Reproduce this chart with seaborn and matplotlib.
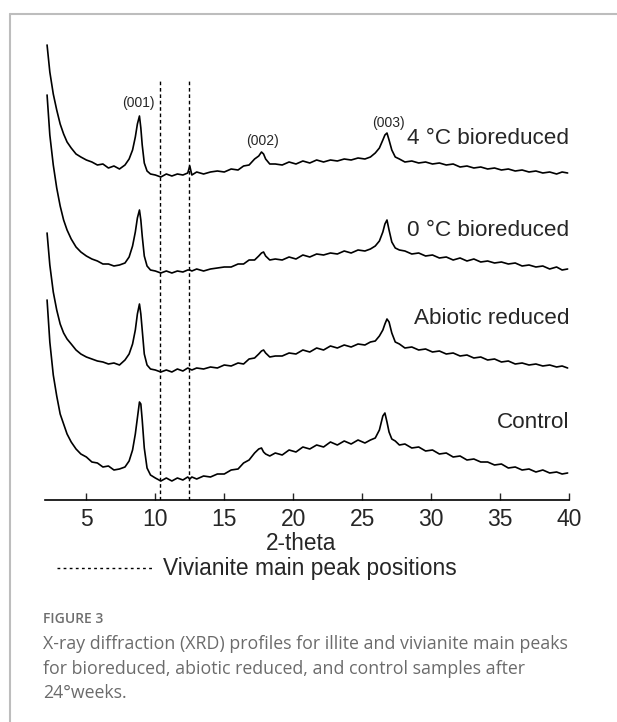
import matplotlib
matplotlib.use('Agg')
import matplotlib.pyplot as plt
from matplotlib.lines import Line2D
import numpy as np
import pandas as pd
import seaborn as sns

# 2-theta positions (shared by all four scans)
two_theta = [2.15, 2.35, 2.6, 2.85, 3.1, 3.35, 3.6, 3.9, 4.25, 4.6,
             5.0, 5.4, 5.8, 6.2, 6.6, 7.0, 7.4, 7.8, 8.1, 8.35,
             8.55, 8.7, 8.85, 8.95, 9.05, 9.2, 9.4, 9.65, 10.0, 10.4,
             10.8, 11.2, 11.6, 12.0, 12.35, 12.5, 12.65, 13.0, 13.5, 14.0,
             14.5, 15.0, 15.5, 16.0, 16.4, 16.8, 17.2, 17.5, 17.7, 17.85,
             18.0, 18.3, 18.7, 19.2, 19.7, 20.2, 20.7, 21.2, 21.7, 22.2,
             22.7, 23.2, 23.7, 24.2, 24.7, 25.2, 25.6, 25.95, 26.25, 26.5,
             26.65, 26.8, 26.95, 27.15, 27.4, 27.7, 28.1, 28.6, 29.1, 29.6,
             30.1, 30.6, 31.1, 31.6, 32.1, 32.6, 33.1, 33.6, 34.1, 34.6,
             35.1, 35.6, 36.1, 36.6, 37.1, 37.6, 38.1, 38.6, 39.1, 39.5, 39.9]

# intensities (stacked, arbitrary units)
bio_4c = [455, 428, 406, 390, 376, 366, 358, 352, 346, 343,
          340, 338, 335, 336, 332, 334, 331, 335, 341, 350,
          363, 376, 384, 372, 355, 337, 329, 326, 325, 323,
          326, 324, 326, 325, 327, 334, 325, 328, 326, 328,
          329, 328, 331, 330, 334, 335, 341, 344, 348, 346,
          341, 336, 336, 335, 338, 336, 339, 337, 340, 338,
          340, 339, 341, 340, 342, 341, 343, 347, 352, 360,
          365, 367, 360, 350, 343, 341, 338, 339, 337, 338,
          336, 337, 335, 336, 333, 334, 332, 333, 331, 332,
          330, 331, 329, 330, 328, 329, 327, 328, 326, 328, 327]

bio_0c = [405, 365, 335, 312, 294, 280, 270, 261, 253, 248,
          244, 241, 239, 236, 236, 234, 235, 237, 243, 254,
          268, 282, 290, 280, 264, 244, 234, 230, 229, 227,
          229, 227, 229, 228, 230, 230, 229, 231, 229, 231,
          232, 233, 233, 236, 236, 240, 240, 244, 247, 248,
          244, 240, 241, 240, 243, 241, 245, 243, 246, 245,
          247, 246, 249, 247, 250, 249, 251, 254, 259, 268,
          276, 280, 270, 258, 252, 250, 249, 246, 247, 244,
          245, 242, 243, 240, 242, 239, 241, 238, 239, 237,
          238, 236, 237, 234, 235, 233, 234, 231, 233, 230, 231]

abiotic = [267, 235, 208, 190, 176, 167, 161, 156, 150, 146,
           143, 141, 139, 138, 136, 137, 135, 140, 146, 156,
           170, 186, 196, 186, 170, 146, 135, 131, 130, 128,
           130, 128, 131, 129, 132, 131, 130, 132, 131, 133,
           132, 135, 134, 137, 136, 141, 142, 146, 149, 150,
           147, 143, 144, 144, 147, 146, 150, 148, 152, 150,
           154, 152, 155, 153, 156, 155, 158, 159, 164, 170,
           176, 181, 178, 167, 158, 156, 152, 153, 150, 151,
           148, 149, 146, 147, 144, 145, 142, 143, 140, 141,
           138, 139, 136, 137, 135, 136, 134, 135, 133, 134, 132]

control = [200, 158, 125, 104, 86, 76, 66, 58, 51, 46,
           43, 38, 37, 33, 34, 30, 31, 33, 39, 50,
           66, 82, 98, 96, 80, 52, 32, 25, 22, 19,
           22, 19, 22, 20, 23, 21, 23, 21, 24, 23,
           26, 26, 30, 31, 37, 40, 47, 51, 52, 48,
           46, 44, 47, 45, 50, 48, 53, 51, 55, 53,
           58, 55, 59, 56, 60, 57, 60, 62, 70, 84,
           87, 78, 68, 61, 59, 55, 56, 52, 53, 49,
           50, 46, 47, 43, 44, 40, 41, 38, 38, 35,
           36, 32, 33, 30, 31, 28, 30, 27, 28, 26, 27]

sample_names = ['4 °C bioreduced', '0 °C bioreduced', 'Abiotic reduced', 'Control']
label_y = [362, 270, 182, 78]
vivianite_peaks = [10.35, 12.45]
miller = ['(001)', '(002)', '(003)']
miller_x = [8.77, 17.8, 26.9]
miller_y = [397, 359, 377]

df = pd.concat([pd.DataFrame({'two_theta': two_theta, 'intensity': ys, 'sample': name})
                for name, ys in zip(sample_names, [bio_4c, bio_0c, abiotic, control])])

sns.set_style('white')
plt.rcParams['font.family'] = ['Liberation Sans', 'DejaVu Sans']

fig = plt.figure(figsize=(6.17, 7.22), dpi=100)
ax = fig.add_axes([45 / 617, 1 - 500 / 722, 524 / 617, 460 / 722])
sns.lineplot(data=df, x='two_theta', y='intensity', hue='sample', palette=['black'] * 4,
             estimator=None, sort=False, legend=False, lw=1.2, ax=ax)
ax.vlines(vivianite_peaks, 0, 420, colors='black', lw=1.0, linestyles=(0, (2.6, 2.0)))

for txt, xx, yy in zip(miller, miller_x, miller_y):
    ax.text(xx, yy, txt, ha='center', va='center', fontsize=10)
for name, yy in zip(sample_names, label_y):
    ax.text(40, yy, name, ha='right', va='center', fontsize=16.2)

ax.set_xlim(2, 40)
ax.set_ylim(0, 460)
ax.set_xticks([5, 10, 15, 20, 25, 30, 35, 40])
ax.set_yticks([])
ax.tick_params(axis='x', direction='in', length=5, width=1, pad=6, labelsize=16.5, bottom=True)
for s in ['top', 'right', 'left']:
    ax.spines[s].set_visible(False)
ax.spines['bottom'].set_color('black')
ax.spines['bottom'].set_linewidth(1.2)
ax.set_ylabel('')
ax.set_xlabel('2-theta', fontsize=16.3)
ax.xaxis.set_label_coords(0.489, -0.069)

# legend entry for the dashed lines
fig.add_artist(Line2D([57 / 617, 153 / 617], [1 - 568 / 722] * 2, color='black', lw=1.0,
                      linestyle=(0, (2.0, 2.4))))
fig.text(163 / 617, 1 - 568 / 722, 'Vivianite main peak positions', fontsize=16.4, va='center')

# page frame + caption
fig.add_artist(Line2D([9.5 / 617, 1], [1 - 14 / 722] * 2, color='#bdbdbd', lw=1.5))
fig.add_artist(Line2D([9.5 / 617] * 2, [0, 1 - 14 / 722], color='#bdbdbd', lw=1.5))
fig.text(43 / 617, 1 - 619 / 722, 'FIGURE 3', fontsize=10, color='#6e6e6e', va='center',
         family='Open Sans', weight='semibold')
caption = ['X-ray diffraction (XRD) profiles for illite and vivianite main peaks',
           'for bioreduced, abiotic reduced, and control samples after',
           '24°weeks.']
for i, line in enumerate(caption):
    fig.text(43 / 617, 1 - (644 + 24.5 * i) / 722, line, fontsize=12.8, color='#6b6b6b',
             va='center', family='Open Sans')

fig.savefig('out.png', dpi=100)
